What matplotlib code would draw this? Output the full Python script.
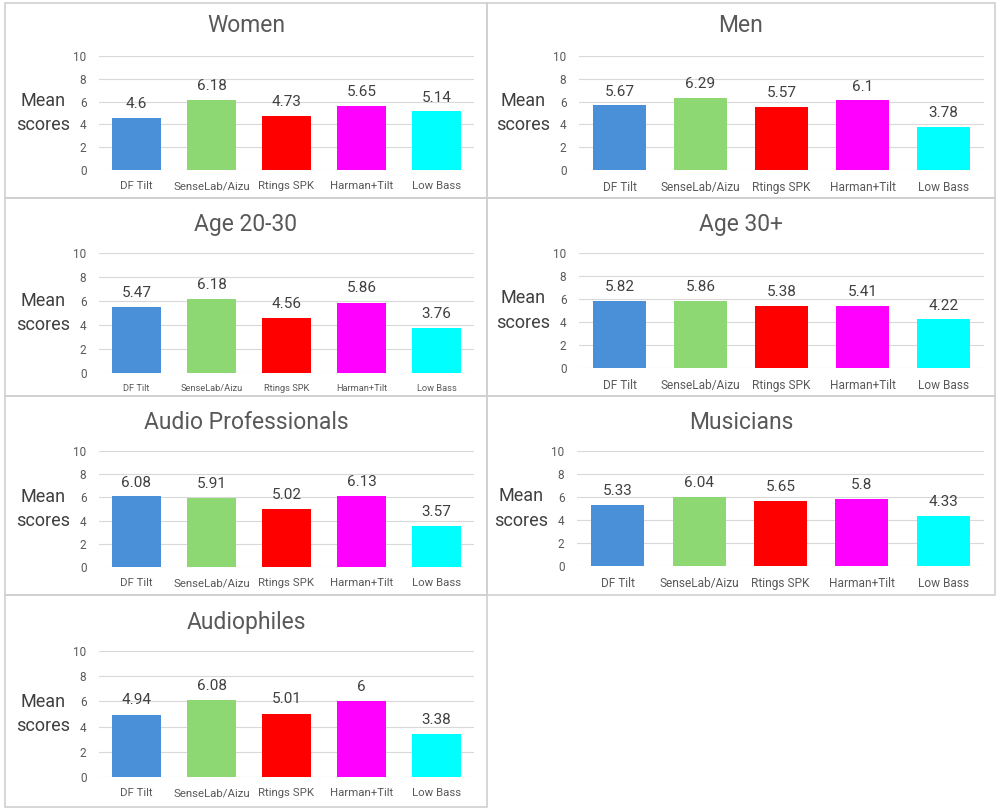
import matplotlib
matplotlib.use('Agg')
import matplotlib.pyplot as plt
from matplotlib.patches import Rectangle

plt.rcParams['font.family'] = ['Roboto', 'DejaVu Sans']

categories = ['DF Tilt', 'SenseLab/Aizu', 'Rtings SPK', 'Harman+Tilt', 'Low Bass']
bar_colors = ['#4A90D9', '#8ED873', '#FF0000', '#FF00FF', '#00FFFF']

women = [4.6, 6.18, 4.73, 5.65, 5.14]
men = [5.67, 6.29, 5.57, 6.1, 3.78]
age_20_30 = [5.47, 6.18, 4.56, 5.86, 3.76]
age_30_plus = [5.82, 5.86, 5.38, 5.41, 4.22]
audio_pros = [6.08, 5.91, 5.02, 6.13, 3.57]
musicians = [5.33, 6.04, 5.65, 5.8, 4.33]
audiophiles = [4.94, 6.08, 5.01, 6, 3.38]

W, H = 1000, 810
fig = plt.figure(figsize=(W / 100, H / 100), dpi=100)

# panel: title, values, box (x0, y0, x1, y1), plot area (x0, x1, ytop, ybottom), title y, xtick size
panels = [
    ('Women', women, (5, 3, 487, 198), (99, 474, 56, 170), 25, 8.2),
    ('Men', men, (487, 3, 995, 198), (579, 984, 56, 170), 26, 8.6),
    ('Age 20-30', age_20_30, (5, 198, 487, 396), (99, 474, 253, 373), 224, 6.7),
    ('Age 30+', age_30_plus, (487, 198, 995, 396), (579, 984, 253, 368), 224, 8.6),
    ('Audio Professionals', audio_pros, (5, 396, 487, 595), (99, 474, 451, 567), 422, 8.2),
    ('Musicians', musicians, (487, 396, 995, 595), (577, 984, 451, 566), 422, 8.6),
    ('Audiophiles', audiophiles, (5, 595, 487, 807), (99, 474, 651, 777), 622, 8.2),
]

for title, vals, box, area, ty, xs in panels:
    bx0, by0, bx1, by1 = box
    fig.patches.append(Rectangle((bx0 / W, 1 - by1 / H), (bx1 - bx0) / W, (by1 - by0) / H,
                                 transform=fig.transFigure, fill=False,
                                 edgecolor='#D0D0D0', linewidth=1.2))
    fig.text((bx0 + bx1) / 2 / W, 1 - ty / H, title, ha='center', va='center',
             fontsize=16.5, color='#595959')

    x0, x1, yt, yb = area
    ax = fig.add_axes([x0 / W, 1 - yb / H, (x1 - x0) / W, (yb - yt) / H])
    ax.bar(range(len(categories)), vals, width=0.65, color=bar_colors, zorder=3)
    for i, v in enumerate(vals):
        ax.text(i, v + 0.6, f'{v:g}', ha='center', va='bottom', fontsize=11, color='#404040')
    ax.set_xlim(-0.5, len(categories) - 0.5)
    ax.set_ylim(0, 10)
    ax.set_yticks(range(0, 11, 2))
    ax.set_xticks(range(len(categories)))
    ax.set_xticklabels(categories)
    ax.tick_params(axis='y', length=0, pad=9, labelsize=8.5, labelcolor='#595959')
    ax.tick_params(axis='x', length=0, pad=8, labelsize=xs, labelcolor='#595959')
    ax.grid(axis='y', color='#D9D9D9', linewidth=0.8, zorder=0)
    for s in ax.spines.values():
        s.set_visible(False)
    ax.text(-0.15 if x0 < 300 else -0.138, 0.5, 'Mean\nscores', transform=ax.transAxes,
            ha='center', va='center', fontsize=13, color='#404040', linespacing=1.45)

fig.savefig('out.png', dpi=100)
